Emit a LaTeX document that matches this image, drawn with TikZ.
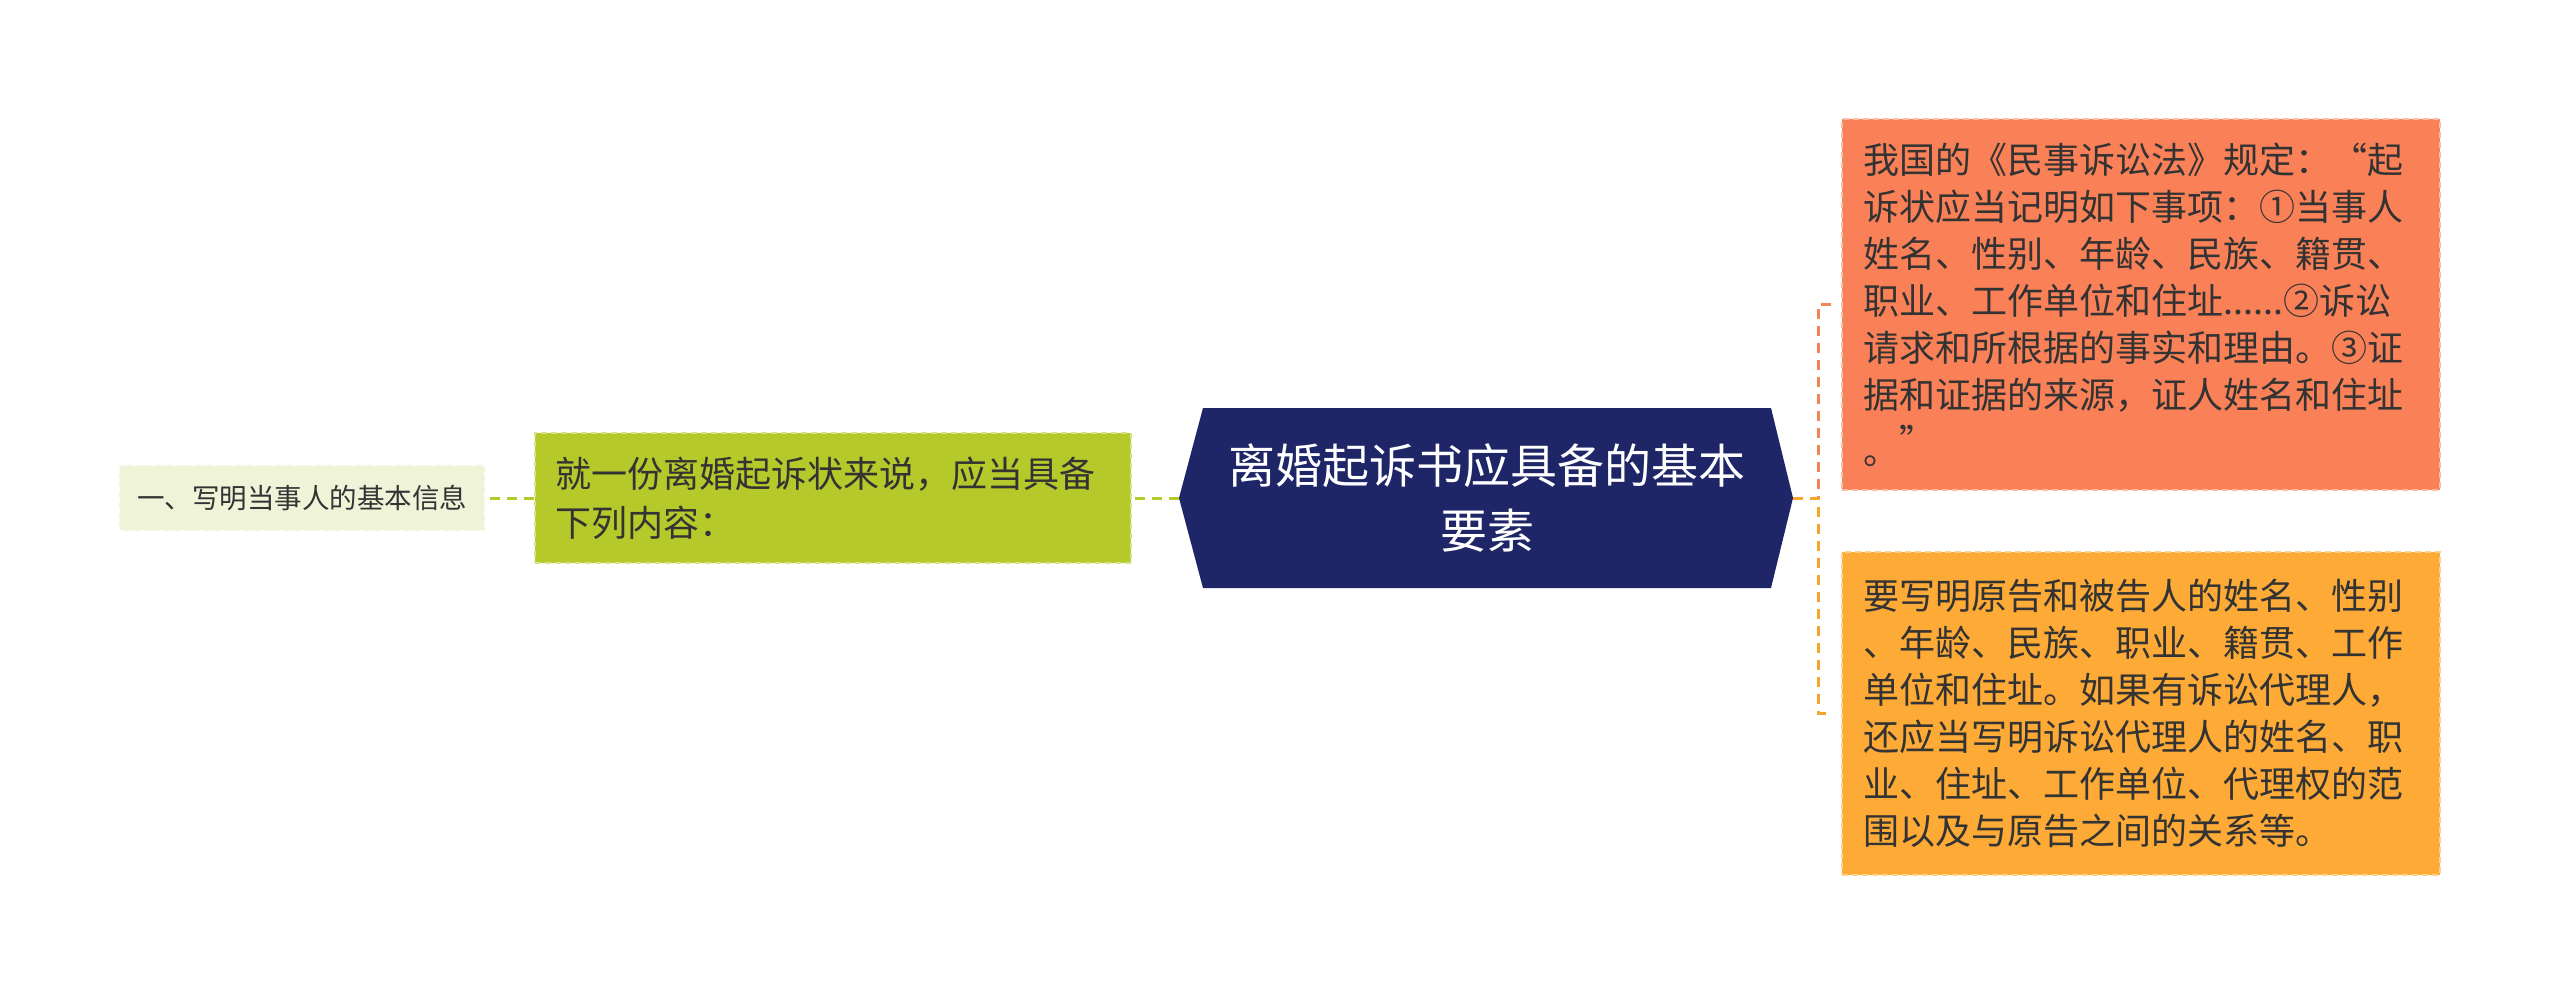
\documentclass[tikz,border=0pt]{standalone}
\usepackage{fontspec}
\setmainfont{Noto Sans CJK SC}
\definecolor{navy}{HTML}{1F2667}
\definecolor{salmon}{HTML}{FA8157}
\definecolor{orangebox}{HTML}{FDAA36}
\definecolor{greenbox}{HTML}{B5C92A}
\definecolor{lightbox}{HTML}{EFF4D8}
\definecolor{salmonline}{HTML}{F08558}
\definecolor{orangeline}{HTML}{F5A52E}
\definecolor{greenline}{HTML}{B5C92A}
\definecolor{textc}{HTML}{333333}
\begin{document}
\begin{tikzpicture}[x=1pt,y=1pt,
  box/.style={rectangle, inner sep=0pt, text=textc, line width=1.5pt, dash pattern=on 6pt off 4pt},
  conn/.style={line width=3pt, dash pattern=on 10pt off 7pt}]
\useasboundingbox (0,0) rectangle (2560,-996);
\fill[white] (0,0) rectangle (2560,-996);
% central hexagon
\coordinate (cL) at (1179,-498);
\coordinate (cR) at (1793,-498);
\fill[navy] (cL) -- (1203,-408) -- (1771,-408) -- (cR) -- (1771,-588) -- (1203,-588) -- cycle;
\node[text=white, align=center, inner sep=0pt, font=\fontsize{47}{65}\selectfont] (c) at (1487,-498) {离婚起诉书应具备的基本\\要素};
% right boxes
\node[box, fill=salmon, draw=salmon!55!white, minimum width=598pt, minimum height=371pt, text width=556pt, align=left, font=\fontsize{36}{47}\selectfont] (t) at (2141,-304.5)
 {我国的《民事诉讼法》规定：“起\\诉状应当记明如下事项：①当事人\\姓名、性别、年龄、民族、籍贯、\\职业、工作单位和住址......②诉讼\\请求和所根据的事实和理由。③证\\据和证据的来源，证人姓名和住址\\\raisebox{-9pt}{。}”};
\node[box, fill=orangebox, draw=orangebox!55!white, minimum width=598pt, minimum height=323pt, text width=556pt, align=left, font=\fontsize{36}{47}\selectfont] (b) at (2141,-713.5)
 {要写明原告和被告人的姓名、性别\\、年龄、民族、职业、籍贯、工作\\单位和住址。如果有诉讼代理人，\\还应当写明诉讼代理人的姓名、职\\业、住址、工作单位、代理权的范\\围以及与原告之间的关系等。};
% left boxes
\node[box, fill=greenbox, draw=greenbox!55!white, minimum width=596pt, minimum height=130pt, text width=556pt, align=left, font=\fontsize{36}{49}\selectfont] (g) at (833,-498)
 {就一份离婚起诉状来说，应当具备\\下列内容：};
\node[box, fill=lightbox, draw=white!85!lightbox, minimum width=366pt, minimum height=66pt, align=center, font=\fontsize{27.5}{33}\selectfont] (l) at (302,-498)
 {一、写明当事人的基本信息};
% connectors
\draw[conn, salmonline] (cR) -- ++(25,0) |- ([xshift=-7pt]t.west);
\draw[conn, orangeline] (cR) -- ++(25,0) |- ([xshift=-9pt]b.west);
\draw[conn, greenline] (cL) -- (g.east);
\draw[conn, greenline] (g.west) -- (l.east);
\end{tikzpicture}
\end{document}
